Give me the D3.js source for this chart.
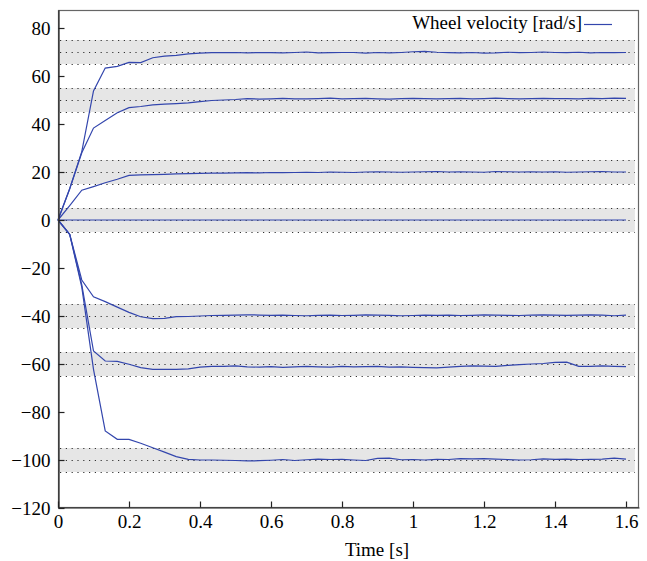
<!DOCTYPE html>
<html>
<head>
<meta charset="utf-8">
<script src="https://cdn.jsdelivr.net/npm/d3@7"></script>
<style>
  body { margin: 0; background: #fff; }
  text { font-family: "Liberation Serif", "DejaVu Serif", serif; }
</style>
</head>
<body>
<svg id="chart" width="647" height="561"></svg>
<script>
// sample times [s]
var times = [0, 0.033, 0.067, 0.1, 0.133, 0.167, 0.2, 0.233, 0.267, 0.3,
  0.333, 0.367, 0.4, 0.433, 0.467, 0.5, 0.533, 0.567, 0.6, 0.633,
  0.667, 0.7, 0.733, 0.767, 0.8, 0.833, 0.867, 0.9, 0.933, 0.967,
  1.0, 1.033, 1.067, 1.1, 1.133, 1.167, 1.2, 1.233, 1.267, 1.3,
  1.333, 1.367, 1.4, 1.433, 1.467, 1.5, 1.533, 1.567, 1.6];

// wheel velocities [rad/s], one list per wheel
var wheel70 = [0, 13, 28.5, 53.8, 63.3, 64, 65.7, 65.6, 67.6, 68.3,
  68.6, 69.2, 69.5, 69.7, 69.7, 69.8, 69.6, 69.8, 69.7, 69.6,
  69.8, 70.0, 69.6, 69.7, 69.8, 69.8, 69.5, 69.8, 69.6, 69.8,
  70.1, 70.3, 69.9, 69.7, 69.6, 69.8, 69.5, 69.6, 69.9, 69.7,
  69.8, 70.0, 69.8, 69.7, 69.9, 69.6, 69.8, 69.7, 69.8];
var wheel50 = [0, 13, 28, 38.3, 41.5, 44.7, 46.8, 47.3, 48, 48.3,
  48.5, 48.8, 49.3, 49.8, 50.0, 50.2, 50.6, 50.4, 50.5, 50.7,
  50.5, 50.5, 50.6, 50.8, 50.5, 50.6, 50.7, 50.5, 50.4, 50.6,
  50.7, 50.6, 50.5, 50.6, 50.7, 50.5, 50.6, 50.8, 50.6, 50.5,
  50.6, 50.7, 50.6, 50.6, 50.5, 50.7, 50.6, 50.8, 50.7];
var wheel20 = [0, 6, 12.4, 13.9, 15.5, 17.0, 18.6, 18.8, 18.9, 19.0,
  19.2, 19.3, 19.4, 19.5, 19.5, 19.6, 19.7, 19.6, 19.8, 19.7,
  19.8, 19.9, 19.8, 20.0, 19.9, 19.8, 20.0, 20.1, 20.0, 19.9,
  20.0, 20.1, 20.2, 20.0, 20.1, 20.0, 19.9, 20.2, 20.1, 20.0,
  20.1, 20.0, 20.1, 19.9, 20.0, 20.1, 20.2, 20.0, 20.0];
var wheel0 = [0, 0, 0, 0, 0, 0, 0, 0, 0, 0,
  0, 0, 0, 0, 0, 0, 0, 0, 0, 0,
  0, 0, 0, 0, 0, 0, 0, 0, 0, 0,
  0, 0, 0, 0, 0, 0, 0, 0, 0, 0,
  0, 0, 0, 0, 0, 0, 0, 0, 0];
var wheelM40 = [0, -6, -25, -32, -34, -36.3, -38.5, -40.3, -41.1, -41,
  -40.3, -40.2, -40, -39.8, -39.7, -39.6, -39.5, -39.6, -39.7, -39.6,
  -39.8, -39.9, -39.7, -39.6, -39.8, -39.7, -39.5, -39.6, -39.7, -39.9,
  -39.8, -39.6, -39.7, -39.6, -39.8, -39.7, -39.5, -39.6, -39.7, -39.8,
  -39.6, -39.5, -39.6, -39.7, -39.6, -39.5, -39.6, -39.9, -39.6];
var wheelM60 = [0, -6, -27, -54.6, -58.75, -58.9, -60.1, -61.5, -62.2, -62.2,
  -62.2, -62.0, -61.3, -61.0, -61.0, -60.8, -61.2, -61.3, -61.1, -61.4,
  -61.2, -61.0, -61.2, -61.3, -61.0, -61.2, -61.1, -61.0, -61.3, -61.2,
  -61.4, -61.5, -61.6, -61.3, -61.0, -60.8, -60.9, -61.0, -60.6, -60.3,
  -60.0, -59.8, -59.3, -59.2, -61.0, -61.0, -60.8, -61.0, -61.1];
var wheelM100 = [0, -6, -28, -62.2, -87.9, -91.4, -91.4, -93, -94.9, -96.7,
  -98.6, -99.7, -100, -100, -100.1, -100.2, -100.4, -100.3, -100.1, -99.8,
  -100.2, -99.9, -99.6, -99.8, -99.7, -100.0, -100.2, -99.3, -99.2, -99.9,
  -99.8, -100.0, -99.7, -99.8, -99.4, -99.5, -99.4, -99.6, -99.8, -100.0,
  -99.9, -99.5, -99.7, -99.6, -99.8, -99.7, -99.6, -99.2, -99.6];

// set-points with a +-5 tolerance band
var targets = [70, 50, 20, 0, -40, -60, -100];
var tolerance = 5;
var bandEnd = 1.625;

var yTicks = [80, 60, 40, 20, 0, -20, -40, -60, -80, -100, -120];
var xTicks = [0, 0.2, 0.4, 0.6, 0.8, 1, 1.2, 1.4, 1.6];

var series = [wheel70, wheel50, wheel20, wheel0, wheelM40, wheelM60, wheelM100];

// plot area in pixels
var plotLeft = 58, plotTop = 10, plotRight = 639, plotBottom = 508;
var lineColour = "#3346ad";
var fontSize = "19px";

var svg = d3.select("#chart");

var x = d3.scaleLinear().domain([0, 1.6366]).range([plotLeft, plotRight]);
var y = d3.scaleLinear().domain([-120, 87.5]).range([plotBottom, plotTop]);

// grey tolerance bands
svg.append("g").selectAll("rect").data(targets).join("rect")
  .attr("x", x(0))
  .attr("width", x(bandEnd) - x(0))
  .attr("y", function(d) { return y(d + tolerance); })
  .attr("height", function(d) { return y(d - tolerance) - y(d + tolerance); })
  .attr("fill", "#e6e6e6");

// dotted lines at target and band edges
var dotted = [];
targets.forEach(function(t) {
  dotted.push(t + tolerance, t, t - tolerance);
});
svg.append("g").selectAll("line").data(dotted).join("line")
  .attr("x1", x(0) + 2)
  .attr("x2", x(bandEnd))
  .attr("y1", function(d) { return Math.round(y(d)) + 0.5; })
  .attr("y2", function(d) { return Math.round(y(d)) + 0.5; })
  .attr("stroke", "#333")
  .attr("stroke-width", 1.2)
  .attr("stroke-dasharray", "1.2,4.6");

// velocity lines
var line = d3.line()
  .x(function(d, i) { return x(times[i]); })
  .y(function(d) { return y(d); });

svg.append("g").selectAll("path").data(series).join("path")
  .attr("d", line)
  .attr("fill", "none")
  .attr("stroke", lineColour)
  .attr("stroke-width", 1.2);

// frame
svg.append("rect")
  .attr("x", plotLeft + 0.5).attr("y", plotTop + 0.5)
  .attr("width", plotRight - plotLeft - 1).attr("height", plotBottom - plotTop - 1)
  .attr("fill", "none")
  .attr("stroke", "#666")
  .attr("stroke-width", 1.2);

// axes with inward ticks
var yAxis = svg.append("g")
  .attr("transform", "translate(" + (plotLeft + 0.5) + ",0)")
  .call(d3.axisLeft(y).tickValues(yTicks).tickSizeInner(-6).tickSizeOuter(0).tickPadding(8));
var xAxis = svg.append("g")
  .attr("transform", "translate(0," + (plotBottom - 0.5) + ")")
  .call(d3.axisBottom(x).tickValues(xTicks).tickSizeInner(-6).tickSizeOuter(0).tickPadding(7)
    .tickFormat(d3.format("")));

[yAxis, xAxis].forEach(function(a) {
  a.attr("font-family", null).attr("font-size", null);
  a.select(".domain").attr("stroke", "#222").attr("stroke-width", 1.2);
  a.selectAll(".tick line").attr("stroke", "#222").attr("stroke-width", 1.2);
  a.selectAll(".tick text")
    .attr("fill", "#000")
    .style("font-size", fontSize);
});

// axis label
svg.append("text")
  .attr("x", 377)
  .attr("y", 556)
  .attr("text-anchor", "middle")
  .style("font-size", fontSize)
  .text("Time [s]");

// legend
svg.append("text")
  .attr("x", 582)
  .attr("y", 29)
  .attr("text-anchor", "end")
  .style("font-size", fontSize)
  .text("Wheel velocity [rad/s]");
svg.append("line")
  .attr("x1", 584).attr("x2", 612)
  .attr("y1", 24.5).attr("y2", 24.5)
  .attr("stroke", lineColour)
  .attr("stroke-width", 1.2);
</script>
</body>
</html>
